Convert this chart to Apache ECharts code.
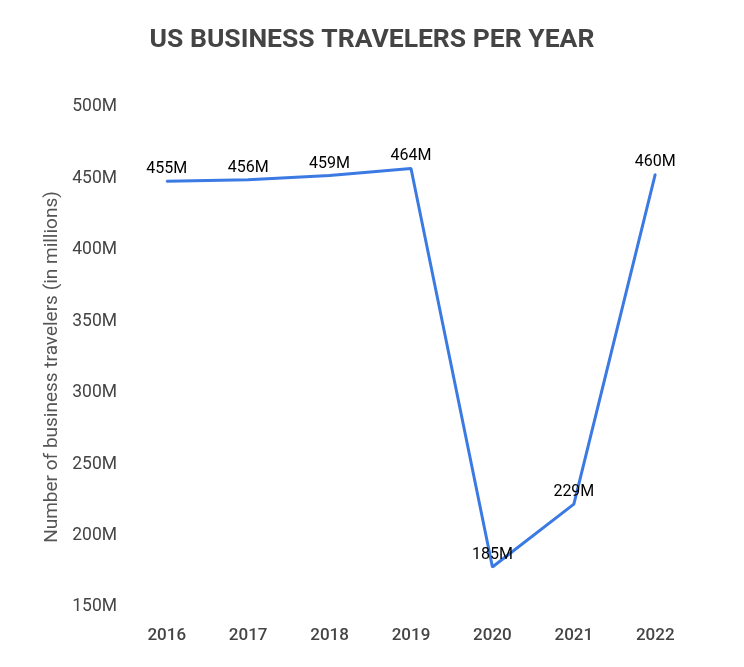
<!DOCTYPE html>
<html>
<head>
<meta charset="utf-8">
<script src="https://cdn.jsdelivr.net/npm/echarts@6/dist/echarts.min.js"></script>
<style>
html,body{margin:0;padding:0;background:#fff;}
#chart{width:744px;height:667px;}
</style>
</head>
<body>
<div id="chart"></div>
<script>
const titleText = 'US BUSINESS TRAVELERS PER YEAR';
const yAxisName = 'Number of business travelers (in millions)';
const years = ['2016', '2017', '2018', '2019', '2020', '2021', '2022'];
// plotted positions (in millions)
const travelers = [448, 449, 452, 457, 178, 222, 453];
// data label texts as printed on the chart
const pointLabels = ['455M', '456M', '459M', '464M', '185M', '229M', '460M'];

const chart = echarts.init(document.getElementById('chart'));
chart.setOption({
  animation: false,
  backgroundColor: '#ffffff',
  title: {
    text: titleText,
    left: 'center',
    top: 22,
    textStyle: { fontFamily: 'Roboto', fontSize: 26.5, fontWeight: 'bold', color: '#444444' }
  },
  grid: { left: 126, right: 48, top: 107, bottom: 60 },
  xAxis: {
    type: 'category',
    data: years,
    boundaryGap: true,
    axisLine: { show: false },
    axisTick: { show: false },
    axisLabel: { fontFamily: 'Roboto', fontSize: 17, fontWeight: 500, color: '#444444', margin: 20 }
  },
  yAxis: {
    type: 'value',
    min: 150,
    max: 500,
    interval: 50,
    name: yAxisName,
    nameLocation: 'middle',
    nameGap: 64,
    nameTextStyle: { fontFamily: 'Roboto', fontSize: 19, color: '#555555', padding: [0, 20, 0, 0] },
    axisLine: { show: false },
    axisTick: { show: false },
    splitLine: { show: false },
    axisLabel: {
      fontFamily: 'Roboto', fontSize: 17.5, color: '#444444', margin: 9,
      formatter: v => v + 'M'
    }
  },
  series: [{
    type: 'line',
    data: travelers,
    showSymbol: true,
    symbol: 'circle',
    symbolSize: 2,
    lineStyle: { color: '#3b7ae3', width: 3 },
    itemStyle: { color: '#3b7ae3' },
    label: {
      show: true,
      position: 'top',
      distance: 3,
      fontFamily: 'Roboto',
      fontSize: 16,
      color: '#000000',
      formatter: p => pointLabels[p.dataIndex]
    }
  }]
});
</script>
</body>
</html>
